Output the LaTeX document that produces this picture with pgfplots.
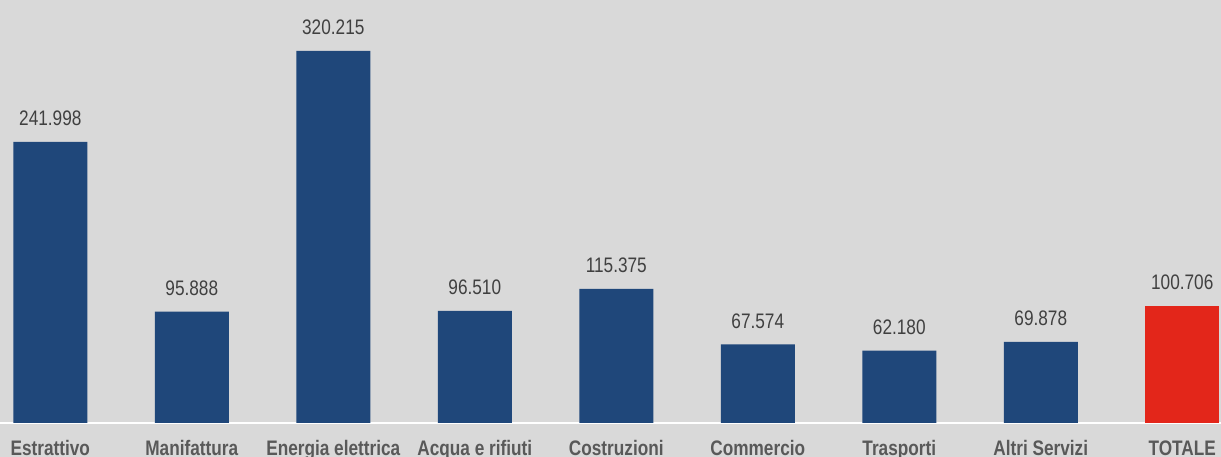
\documentclass[border=0pt]{standalone}
\usepackage{pgfplots}
\pgfplotsset{compat=1.18}
\usepackage{fontspec}
\setmainfont{Liberation Sans}[FakeStretch=0.82]
\definecolor{bg}{HTML}{D9D9D9}
\definecolor{barblue}{HTML}{1F477A}
\definecolor{barred}{HTML}{E3261A}
\definecolor{valtxt}{HTML}{404040}
\definecolor{cattxt}{HTML}{595959}

\begin{document}
\begin{tikzpicture}
\path[use as bounding box, fill=bg] (0,0) rectangle (1221pt,457pt);
\begin{axis}[
    at={(0pt,34pt)}, anchor=south west,
    scale only axis,
    width=1221pt, height=423pt,
    xmin=-0.3555, xmax=8.2735,
    ymin=0, ymax=364000,
    axis y line=none,
    axis x line=bottom,
    axis line style={white, line width=1.5pt, -},
    major tick length=0pt,
    xtick={0,...,8},
    xticklabels={Estrattivo, Manifattura, Energia elettrica, Acqua e rifiuti, Costruzioni, Commercio, Trasporti, Altri Servizi, TOTALE},
    xticklabel style={anchor=base, yshift=-33pt, inner sep=0pt, text=cattxt,
        font=\fontsize{21}{25}\selectfont\bfseries},
    ybar, bar width=74pt,
    /pgf/number format/.cd, fixed, precision=0, 1000 sep={.}, assume math mode=true,
    /pgfplots/.cd,
    nodes near coords,
    every node near coord/.append style={anchor=base, yshift=16pt, inner sep=0pt,
        text=valtxt, font=\fontsize{21}{25}\selectfont},
    clip=false,
]
\addplot[fill=barblue, draw=none, bar shift=0pt] coordinates {
    (0,241998) (1,95888) (2,320215) (3,96510) (4,115375) (5,67574) (6,62180) (7,69878)
};
\addplot[fill=barred, draw=none, bar shift=0pt] coordinates {
    (8,100706)
};
\end{axis}
\end{tikzpicture}
\end{document}
